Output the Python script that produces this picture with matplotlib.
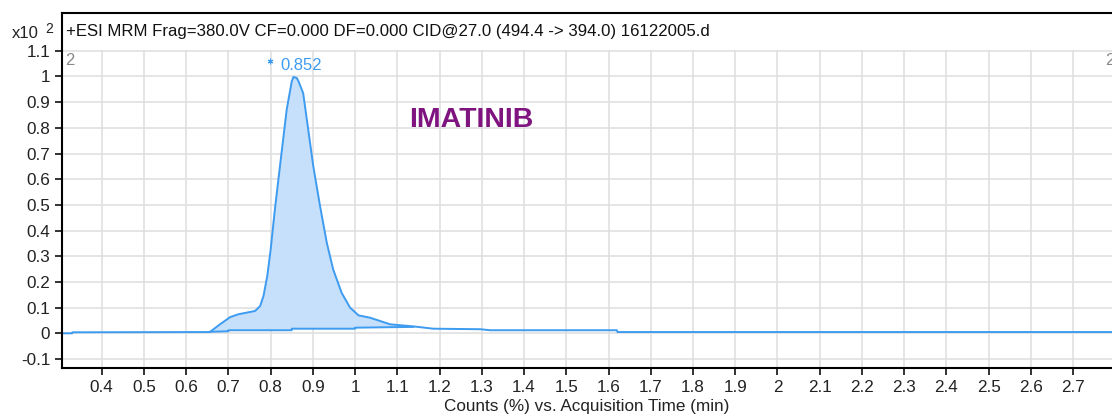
import matplotlib.pyplot as plt
import numpy as np

# Dados do cromatograma (tempo em min, contagens x10^2)
tempo = [0.306, 0.330, 0.331, 0.656, 0.680, 0.704, 0.723, 0.763, 0.775, 0.783,
         0.792, 0.800, 0.810, 0.822, 0.838, 0.850, 0.854, 0.862, 0.866, 0.877,
         0.889, 0.901, 0.917, 0.933, 0.948, 0.968, 0.988, 1.008, 1.035, 1.083,
         1.138, 1.185, 1.296, 1.320, 1.620, 1.621, 2.792]
sinal = [0.0, 0.0, 0.004, 0.005, 0.035, 0.063, 0.074, 0.087, 0.106, 0.145,
         0.223, 0.326, 0.482, 0.650, 0.871, 0.981, 0.998, 0.994, 0.981, 0.935,
         0.793, 0.650, 0.495, 0.352, 0.249, 0.158, 0.100, 0.070, 0.061, 0.035,
         0.027, 0.018, 0.016, 0.012, 0.012, 0.005, 0.005]

# Linha de base da integracao (degraus)
base_t = [0.656, 0.700, 0.700, 0.850, 0.850, 1.000, 1.000, 1.138]
base_y = [0.006, 0.008, 0.012, 0.012, 0.018, 0.018, 0.022, 0.025]

xticks = [0.4, 0.5, 0.6, 0.7, 0.8, 0.9, 1.0, 1.1, 1.2, 1.3, 1.4, 1.5, 1.6, 1.7,
          1.8, 1.9, 2.0, 2.1, 2.2, 2.3, 2.4, 2.5, 2.6, 2.7]
xlabels = ['0.4', '0.5', '0.6', '0.7', '0.8', '0.9', '1', '1.1', '1.2', '1.3', '1.4',
           '1.5', '1.6', '1.7', '1.8', '1.9', '2', '2.1', '2.2', '2.3', '2.4', '2.5',
           '2.6', '2.7']
yticks = [-0.1, 0.0, 0.1, 0.2, 0.3, 0.4, 0.5, 0.6, 0.7, 0.8, 0.9, 1.0, 1.1]
ylabels = ['-0.1', '0', '0.1', '0.2', '0.3', '0.4', '0.5', '0.6', '0.7', '0.8',
           '0.9', '1', '1.1']

pico_t = 0.852
titulo = '+ESI MRM Frag=380.0V CF=0.000 DF=0.000 CID@27.0 (494.4 -> 394.0) 16122005.d'
eixox = 'Counts (%) vs. Acquisition Time (min)'
composto = 'IMATINIB'

azul = '#3d9bf0'
plt.rcParams['font.family'] = ['Liberation Sans', 'DejaVu Sans']

fig = plt.figure(figsize=(11.12, 4.17), dpi=100)
W, H = 1112, 417
ax = fig.add_axes([62 / W, (H - 368) / H, 1 - 62 / W, (368 - 50) / H])
cab = fig.add_axes([62 / W, (H - 50) / H, 1 - 62 / W, 37 / H])

# cabecalho
cab.set_xticks([])
cab.set_yticks([])
cab.spines['bottom'].set_visible(False)
cab.spines['right'].set_visible(False)
cab.spines['top'].set_linewidth(1.5)
cab.spines['left'].set_linewidth(1.5)
cab.text(4 / (W - 62), 0.5, titulo, transform=cab.transAxes, fontsize=12.1,
         va='center', ha='left', color='#111111')

# area de preenchimento entre curva e linha de base
t_arr = np.array(tempo)
y_arr = np.array(sinal)
mask = (t_arr >= 0.656) & (t_arr <= 1.138)
poly_x = list(t_arr[mask]) + base_t[::-1]
poly_y = list(y_arr[mask]) + base_y[::-1]
ax.fill(poly_x, poly_y, color='#c6e0fb', lw=0)
ax.plot(tempo, sinal, color=azul, lw=1.4)
ax.plot(base_t, base_y, color=azul, lw=1.4)

ax.set_xlim(0.306, 2.792)
ax.set_ylim(-0.135, 1.103)
ax.set_xticks(xticks)
ax.set_xticklabels(xlabels)
ax.set_yticks(yticks)
ax.set_yticklabels(ylabels)
ax.grid(True, color='#dedede', lw=1.1)
ax.set_axisbelow(True)
ax.tick_params(labelsize=12.3, colors='#222222', length=5, width=1.3)
ax.spines['top'].set_visible(False)
ax.spines['right'].set_visible(False)
ax.spines['left'].set_linewidth(1.5)
ax.spines['bottom'].set_linewidth(1.5)
ax.set_xlabel(eixox, fontsize=12.3, color='#222222', labelpad=3)

ax.plot([0.799], [1.062], marker=(6, 2, 0), ms=4, color=azul, mew=0.8)
ax.text(0.822, 1.044, f'{pico_t:.3f}', color=azul, fontsize=12, va='center', ha='left')
ax.text(1.275, 0.83, composto, color='#7f137f', fontsize=20.5, fontweight='bold',
        va='center', ha='center')
ax.text(0.313, 1.064, '2', color='#888888', fontsize=12, va='center', ha='left')
ax.text(2.775, 1.064, '2', color='#888888', fontsize=12, va='center', ha='left', clip_on=False)

fig.text(12 / W, (H - 33) / H, 'x10', fontsize=12, color='#222222', va='center')
fig.text(45 / W, (H - 29) / H, '2', fontsize=10, color='#222222', va='center')

plt.savefig('out.png', dpi=100)
